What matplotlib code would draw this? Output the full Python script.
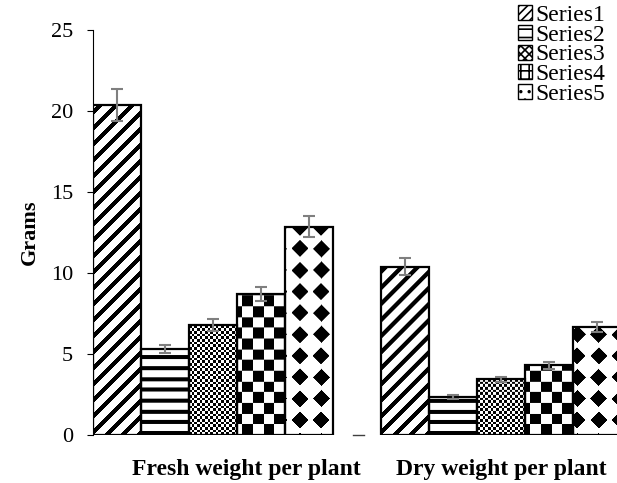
import matplotlib.pyplot as plt
import numpy as np
from matplotlib.patches import Patch

plt.rcParams['font.family'] = ['Liberation Serif', 'DejaVu Serif']
plt.rcParams['hatch.linewidth'] = 1.2

categories = ["Fresh weight per plant", "Dry weight per plant"]
label_pos = [3.19, 8.5]
series = ["Series1", "Series2", "Series3", "Series4", "Series5"]
fresh = [20.37, 5.31, 6.79, 8.72, 12.86]
fresh_err = [0.97, 0.22, 0.35, 0.43, 0.66]
dry = [10.39, 2.33, 3.44, 4.30, 6.65]
dry_err = [0.52, 0.12, 0.14, 0.20, 0.31]
yticks = [0, 5, 10, 15, 20, 25]


def pattern(kind, X, Y):
    # black/white fill, X and Y are pixel positions from the axes origin
    if kind == 0:
        black = ((Y - X) % 16) < 6
    elif kind == 1:
        black = (Y % 10.67) < 4
    elif kind == 2:
        black = ((X // 2.67 + Y // 2.67) % 2) == 0
    elif kind == 3:
        black = ((X // 10.67 + Y // 10.67) % 2) == 0
    else:
        p = 21.33
        dx = (X - 15 + p / 2) % p - p / 2
        dy = (Y - 15 + p / 2) % p - p / 2
        black = (np.abs(dx) + np.abs(dy)) < 8.5
    return np.where(black, 0.0, 1.0)


fig = plt.figure(figsize=(6.17, 4.83), dpi=100)
ax = fig.add_axes([93 / 617, 48 / 483, 524 / 617, 405 / 483])

bar_px = 48.0
xmax = ax.bbox.width / bar_px
ymax = 25
ax.set_xlim(0, xmax)
ax.set_ylim(0, ymax)
ypx = ax.bbox.height / ymax

groups = [(fresh, fresh_err), (dry, dry_err)]
for g, (vals, errs) in enumerate(groups):
    lefts = [g * 6 + s for s in range(len(series))]
    bars = ax.bar(lefts, vals, width=1, align='edge', facecolor='none',
                  edgecolor='black', linewidth=1.6, zorder=3)
    for s, (b, v) in enumerate(zip(bars, vals)):
        ncol = int(np.ceil(bar_px))
        nrow = int(np.ceil(v * ypx))
        X, Y = np.meshgrid(lefts[s] * bar_px + np.arange(ncol) + 0.5,
                           np.arange(nrow) + 0.5)
        img = pattern(s, X, Y)
        im = ax.imshow(img, cmap='gray', vmin=0, vmax=1, origin='lower',
                       extent=(lefts[s], lefts[s] + ncol / bar_px, 0, nrow / ypx),
                       aspect='auto', interpolation='antialiased', zorder=2)
        im.set_clip_path(b)
    centers = [l + 0.5 for l in lefts]
    ax.errorbar(centers, vals, yerr=errs, fmt='none', ecolor='#7f7f7f',
                elinewidth=1.5, capsize=4.5, capthick=1.5, zorder=5)

ax.set_xlim(0, xmax)
ax.set_ylim(0, ymax)

# small stub of the category axis between the groups
ax.plot([5.42, 5.65], [0, 0], color='#404040', lw=1, clip_on=False)

for side in ['top', 'right', 'bottom']:
    ax.spines[side].set_visible(False)
ax.spines['left'].set_linewidth(0.8)
ax.set_yticks(yticks)
ax.tick_params(axis='y', length=4.5, width=0.8, pad=10, labelsize=16)
ax.set_xticks(label_pos)
ax.set_xticklabels(categories, fontsize=17, fontweight='bold')
ax.tick_params(axis='x', length=0, pad=17)
ax.set_ylabel("Grams", fontsize=16, fontweight='bold', labelpad=8)

hatches = ['////', '--', 'xxxx', '++', '..']
handles = [Patch(facecolor='white', edgecolor='black', hatch=h, label=s)
           for h, s in zip(hatches, series)]
ax.legend(handles=handles, loc='upper right', bbox_to_anchor=(0.985, 0.995),
          bbox_transform=fig.transFigure, frameon=False, fontsize=17,
          handlelength=0.6, handleheight=0.6, handletextpad=0.15,
          labelspacing=-0.05, borderpad=0.1, borderaxespad=0.0)

fig.savefig("out.png", dpi=100)
